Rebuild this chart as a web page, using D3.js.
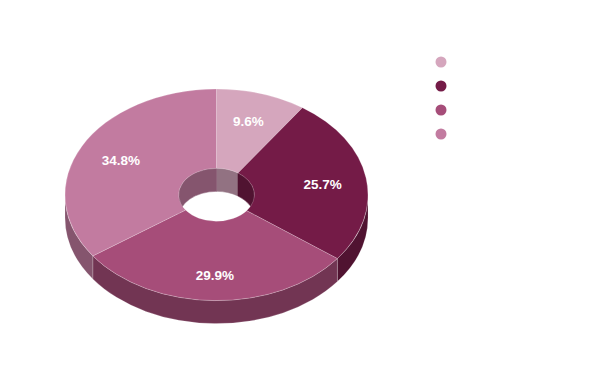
<!DOCTYPE html>
<html>
<head>
<meta charset="utf-8">
<script src="https://cdn.jsdelivr.net/npm/d3@7"></script>
<style>
  body { margin:0; background:#fff; }
  svg { display:block; }
  .lbl { font-family: Arial, "Liberation Sans", sans-serif; font-weight:bold; font-size:13.5px; fill:#fff; }
</style>
</head>
<body>
<svg id="chart" width="600" height="377"></svg>
<script>
// slice data, clockwise from 12 o'clock
var categories = ["", "", "", ""];   // legend has no visible names
var values = [9.6, 25.7, 29.9, 34.8];
var colors = ["#d5a6bd", "#741b47", "#a64d79", "#c27ba0"];

var W = 600, H = 377;
var cx = 216.5, cy = 194.8;   // centre of top face
var rx = 151.5, ry = 105.8;   // outer ellipse
var ir = 0.25;                // hole ratio
var depth = 23;
var labelRx = 0.71, labelRy = 0.745, labelDy = 2;

var svg = d3.select("#chart");

var pie = d3.pie().sort(null).value(function(d){ return d; });
var arcs = pie(values);
arcs.forEach(function(a, i){ a.color = colors[i]; a.side = d3.rgb(colors[i]).darker(1.05).formatHex(); });

function pt(a, r, dy) {
    return [cx + rx * r * Math.sin(a), cy - ry * r * Math.cos(a) + (dy || 0)];
}

function topPath(d) {
    var a0 = d.startAngle, a1 = d.endAngle;
    var big = (a1 - a0) > Math.PI ? 1 : 0;
    var p0 = pt(a0, 1), p1 = pt(a1, 1), q1 = pt(a1, ir), q0 = pt(a0, ir);
    return "M" + p0 + " A" + rx + "," + ry + " 0 " + big + " 1 " + p1 +
        " L" + q1 + " A" + (rx*ir) + "," + (ry*ir) + " 0 " + big + " 0 " + q0 + " Z";
}

function wallPath(s, e, r) {
    if (e <= s) return null;
    var big = (e - s) > Math.PI ? 1 : 0;
    var a = pt(s, r), b = pt(e, r), b2 = pt(e, r, depth), a2 = pt(s, r, depth);
    return "M" + a + " A" + (rx*r) + "," + (ry*r) + " 0 " + big + " 1 " + b +
        " L" + b2 + " A" + (rx*r) + "," + (ry*r) + " 0 " + big + " 0 " + a2 + " Z";
}

// inner walls: only back half of the hole shows (angles -90..90 deg)
var inner = [];
arcs.forEach(function(d){
    var s1 = Math.max(d.startAngle, 0), e1 = Math.min(d.endAngle, Math.PI/2);
    if (e1 > s1) inner.push({d: wallPath(s1, e1, ir), c: d.side});
    var s2 = Math.max(d.startAngle, 3*Math.PI/2), e2 = Math.min(d.endAngle, 2*Math.PI);
    if (e2 > s2) inner.push({d: wallPath(s2, e2, ir), c: d.side});
});
svg.append("g").selectAll("path").data(inner).enter().append("path")
    .attr("d", function(d){ return d.d; })
    .attr("fill", function(d){ return d.c; })
    .attr("stroke", function(d){ return d.c; })
    .attr("stroke-width", 0.5);

// outer walls: front half (90..270 deg)
var outer = [];
arcs.forEach(function(d){
    var s = Math.max(d.startAngle, Math.PI/2), e = Math.min(d.endAngle, 3*Math.PI/2);
    if (e > s) outer.push({d: wallPath(s, e, 1), c: d.side});
});
svg.append("g").selectAll("path").data(outer).enter().append("path")
    .attr("d", function(d){ return d.d; })
    .attr("fill", function(d){ return d.c; })
    .attr("stroke", "rgba(255,255,255,0.25)")
    .attr("stroke-width", 0.7);

// top faces
svg.append("g").selectAll("path").data(arcs).enter().append("path")
    .attr("d", topPath)
    .attr("fill", function(d){ return d.color; })
    .attr("stroke", "rgba(255,255,255,0.3)")
    .attr("stroke-width", 0.7);

// percentage labels
function labelPos(d) {
    var a = (d.startAngle + d.endAngle) / 2;
    return [cx + rx * labelRx * Math.sin(a), cy - ry * labelRy * Math.cos(a) + labelDy];
}
svg.append("g").selectAll("text").data(arcs).enter().append("text")
    .attr("class", "lbl")
    .attr("text-anchor", "middle")
    .attr("dominant-baseline", "central")
    .attr("x", function(d){ return labelPos(d)[0]; })
    .attr("y", function(d){ return labelPos(d)[1]; })
    .text(function(d){ return d.value.toFixed(1) + "%"; });

// legend (dots only)
var leg = svg.append("g").selectAll("g").data(categories).enter().append("g")
    .attr("transform", function(d, i){ return "translate(441," + (62 + i*24) + ")"; });
leg.append("circle").attr("r", 5.5).attr("fill", function(d, i){ return colors[i]; });
leg.append("text").attr("x", 12).attr("dy", "0.35em")
    .style("font-family", "Arial, sans-serif").style("font-size", "12px")
    .text(function(d){ return d; });
</script>
</body>
</html>
